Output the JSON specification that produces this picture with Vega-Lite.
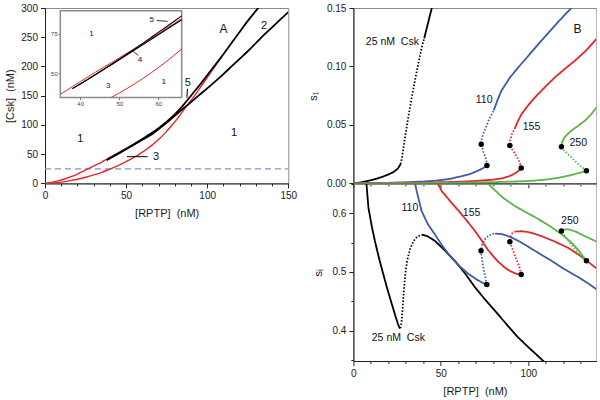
{
  "$schema": "https://vega.github.io/schema/vega-lite/v6.json",
  "background": "white",
  "padding": {"left": 4, "top": 2, "right": 0, "bottom": 0},
  "bounds": "flush",
  "spacing": 64.4,
  "config": {
    "font": "Liberation Sans",
    "view": {"stroke": "#8a8a8a", "strokeWidth": 1},
    "axis": {"grid": false, "labelFontSize": 10, "titleFontSize": 11, "titleFontWeight": "normal", "labelColor": "#1a1a1a", "titleColor": "#1a1a1a", "domainColor": "#222", "tickColor": "#222", "labelFlush": false, "labelOverlap": false, "labelPadding": 3},
    "text": {"fontSize": 10.5, "color": "#111", "fill": "#111"}
  },
  "datasets": {
    "A": [
      {"c":"k5","x":38,"y":40},{"c":"k5","x":40,"y":43},{"c":"k5","x":42,"y":46.1},{"c":"k5","x":44,"y":49.2},{"c":"k5","x":46,"y":52.4},{"c":"k5","x":48,"y":55.6},{"c":"k5","x":50,"y":58.9},{"c":"k5","x":52,"y":62.2},{"c":"k5","x":54,"y":65.6},{"c":"k5","x":56,"y":69},{"c":"k5","x":58,"y":72.5},{"c":"k5","x":60,"y":76},{"c":"k5","x":62,"y":79.5},{"c":"k5","x":64,"y":83},{"c":"k5","x":66,"y":86.6},{"c":"k5","x":70,"y":94.5},{"c":"k5","x":75,"y":105.5},{"c":"k5","x":80,"y":118},{"c":"k5","x":85,"y":133},{"c":"k5","x":88,"y":143},{"c":"k5","x":90,"y":150},{"c":"k5","x":95,"y":167},{"c":"k5","x":100,"y":185},{"c":"k5","x":105,"y":203},{"c":"k5","x":110,"y":221},{"c":"k5","x":115,"y":240},{"c":"k5","x":120,"y":259},{"c":"k5","x":125,"y":278},{"c":"k5","x":130,"y":295},{"c":"k5","x":132,"y":302},
      {"c":"k2","x":38,"y":40},{"c":"k2","x":40,"y":43},{"c":"k2","x":42,"y":46},{"c":"k2","x":44,"y":49.1},{"c":"k2","x":46,"y":52.2},{"c":"k2","x":48,"y":55.3},{"c":"k2","x":50,"y":58.5},{"c":"k2","x":52,"y":61.7},{"c":"k2","x":54,"y":64.9},{"c":"k2","x":56,"y":68.1},{"c":"k2","x":58,"y":71.3},{"c":"k2","x":60,"y":74.5},{"c":"k2","x":62,"y":77.7},{"c":"k2","x":64,"y":80.9},{"c":"k2","x":66,"y":84.1},{"c":"k2","x":70,"y":93},{"c":"k2","x":75,"y":104},{"c":"k2","x":80,"y":116},{"c":"k2","x":85,"y":127.5},{"c":"k2","x":90,"y":139},{"c":"k2","x":95,"y":151},{"c":"k2","x":100,"y":162.5},{"c":"k2","x":105,"y":174.5},{"c":"k2","x":110,"y":187},{"c":"k2","x":115,"y":200},{"c":"k2","x":120,"y":213},{"c":"k2","x":125,"y":226},{"c":"k2","x":130,"y":240},{"c":"k2","x":135,"y":254},{"c":"k2","x":140,"y":267},{"c":"k2","x":145,"y":280},{"c":"k2","x":150,"y":293},
      {"c":"r1","x":0,"y":0},{"c":"r1","x":4,"y":1.8},{"c":"r1","x":8,"y":4.3},{"c":"r1","x":12,"y":7.5},{"c":"r1","x":16,"y":11.5},{"c":"r1","x":20,"y":16},{"c":"r1","x":24,"y":21.5},{"c":"r1","x":28,"y":27},{"c":"r1","x":32,"y":32.5},{"c":"r1","x":35,"y":36.5},{"c":"r1","x":38,"y":41.3},{"c":"r1","x":40,"y":44.5},{"c":"r1","x":42,"y":47.6},{"c":"r1","x":44,"y":50.7},{"c":"r1","x":46,"y":53.7},{"c":"r1","x":48,"y":56.7},{"c":"r1","x":50,"y":59.7},{"c":"r1","x":52,"y":62.7},{"c":"r1","x":54,"y":65.7},{"c":"r1","x":56,"y":68.8},{"c":"r1","x":58,"y":72},{"c":"r1","x":60,"y":75.2},{"c":"r1","x":62,"y":78.4},{"c":"r1","x":64,"y":81.6},{"c":"r1","x":66,"y":84.8},{"c":"r1","x":70,"y":92.5},{"c":"r1","x":75,"y":103.5},{"c":"r1","x":80,"y":115.5},{"c":"r1","x":86,"y":130},
      {"c":"r2","x":0,"y":0},{"c":"r2","x":5,"y":0.8},{"c":"r2","x":10,"y":2.2},{"c":"r2","x":15,"y":4.3},{"c":"r2","x":20,"y":7},{"c":"r2","x":25,"y":10.5},{"c":"r2","x":30,"y":14.5},{"c":"r2","x":35,"y":19},{"c":"r2","x":40,"y":24.5},{"c":"r2","x":44,"y":29},{"c":"r2","x":48,"y":34.4},{"c":"r2","x":50,"y":37.2},{"c":"r2","x":52,"y":40.1},{"c":"r2","x":54,"y":43.2},{"c":"r2","x":56,"y":46.4},{"c":"r2","x":58,"y":49.8},{"c":"r2","x":60,"y":53.4},{"c":"r2","x":62,"y":57.2},{"c":"r2","x":64,"y":61.2},{"c":"r2","x":66,"y":65.4},{"c":"r2","x":70,"y":75},{"c":"r2","x":74,"y":86},{"c":"r2","x":78,"y":98.5},{"c":"r2","x":82,"y":112},{"c":"r2","x":86,"y":127.5},{"c":"r2","x":90,"y":142},{"c":"r2","x":94,"y":157},{"c":"r2","x":98,"y":173},{"c":"r2","x":102,"y":189},{"c":"r2","x":106,"y":205},{"c":"r2","x":109,"y":217}
    ],
    "TA": [
      {"t":"A","x":110,"y":264},{"t":"2","x":135,"y":270},{"t":"5","x":88,"y":172},{"t":"1","x":21.8,"y":76},{"t":"1","x":116.6,"y":85.5},{"t":"3","x":68.4,"y":44.5}
    ],
    "LA": [
      {"x":87.8,"y":162,"x2":87.5,"y2":146.6},{"x":50.5,"y":45.7,"x2":63.3,"y2":45.7}
    ],
    "TI": [
      {"t":"1","x":42.9,"y":75},{"t":"3","x":47.2,"y":41.9},{"t":"1","x":61.4,"y":44.5},{"t":"4","x":55.3,"y":58.5},{"t":"5","x":58.3,"y":84}
    ],
    "LI": [
      {"x":53.6,"y":63.8,"x2":54.9,"y2":61.3},{"x":59.6,"y":83.6,"x2":62.4,"y2":83.1}
    ],
    "Btop": [
      {"c":"25","seg":"25a","d":"solid","x":0,"y":0},{"c":"25","seg":"25a","d":"solid","x":4,"y":0.0008},{"c":"25","seg":"25a","d":"solid","x":8,"y":0.002},{"c":"25","seg":"25a","d":"solid","x":12,"y":0.0035},{"c":"25","seg":"25a","d":"solid","x":16,"y":0.0053},{"c":"25","seg":"25a","d":"solid","x":20,"y":0.0076},{"c":"25","seg":"25a","d":"solid","x":23,"y":0.0098},{"c":"25","seg":"25a","d":"solid","x":25.5,"y":0.0128},{"c":"25","seg":"25a","d":"solid","x":27,"y":0.0165},
      {"c":"25","seg":"25b","d":"dotted","x":27,"y":0.0165},{"c":"25","seg":"25b","d":"dotted","x":27.8,"y":0.022},{"c":"25","seg":"25b","d":"dotted","x":28.6,"y":0.03},{"c":"25","seg":"25b","d":"dotted","x":29.6,"y":0.04},{"c":"25","seg":"25b","d":"dotted","x":31.2,"y":0.055},{"c":"25","seg":"25b","d":"dotted","x":33.2,"y":0.072},{"c":"25","seg":"25b","d":"dotted","x":35.2,"y":0.088},{"c":"25","seg":"25b","d":"dotted","x":37.2,"y":0.103},{"c":"25","seg":"25b","d":"dotted","x":39.2,"y":0.117},{"c":"25","seg":"25b","d":"dotted","x":40.5,"y":0.124},
      {"c":"25","seg":"25c","d":"solid","x":40.5,"y":0.124},{"c":"25","seg":"25c","d":"solid","x":42,"y":0.133},{"c":"25","seg":"25c","d":"solid","x":43.5,"y":0.142},{"c":"25","seg":"25c","d":"solid","x":45,"y":0.151},{"c":"25","seg":"25c","d":"solid","x":46,"y":0.157},
      {"c":"110","seg":"110a","d":"solid","x":0,"y":0},{"c":"110","seg":"110a","d":"solid","x":10,"y":0.0002},{"c":"110","seg":"110a","d":"solid","x":20,"y":0.0005},{"c":"110","seg":"110a","d":"solid","x":30,"y":0.001},{"c":"110","seg":"110a","d":"solid","x":40,"y":0.0016},{"c":"110","seg":"110a","d":"solid","x":47,"y":0.0023},{"c":"110","seg":"110a","d":"solid","x":55,"y":0.0038},{"c":"110","seg":"110a","d":"solid","x":62,"y":0.0062},{"c":"110","seg":"110a","d":"solid","x":67,"y":0.0082},{"c":"110","seg":"110a","d":"solid","x":71.5,"y":0.011},{"c":"110","seg":"110a","d":"solid","x":74.5,"y":0.0133},{"c":"110","seg":"110a","d":"solid","x":76.4,"y":0.0154},
      {"c":"110","seg":"110b","d":"dotted","x":76.4,"y":0.0154},{"c":"110","seg":"110b","d":"dotted","x":76.1,"y":0.019},{"c":"110","seg":"110b","d":"dotted","x":75.4,"y":0.023},{"c":"110","seg":"110b","d":"dotted","x":74.4,"y":0.027},{"c":"110","seg":"110b","d":"dotted","x":73.5,"y":0.031},{"c":"110","seg":"110b","d":"dotted","x":73.1,"y":0.0335},{"c":"110","seg":"110b","d":"dotted","x":73.4,"y":0.038},{"c":"110","seg":"110b","d":"dotted","x":74.4,"y":0.043},{"c":"110","seg":"110b","d":"dotted","x":75.8,"y":0.048},{"c":"110","seg":"110b","d":"dotted","x":77.7,"y":0.055},{"c":"110","seg":"110b","d":"dotted","x":80.3,"y":0.0625},
      {"c":"110","seg":"110c","d":"solid","x":80.3,"y":0.0625},{"c":"110","seg":"110c","d":"solid","x":82.5,"y":0.0715},{"c":"110","seg":"110c","d":"solid","x":84.7,"y":0.0793},{"c":"110","seg":"110c","d":"solid","x":89.5,"y":0.0905},{"c":"110","seg":"110c","d":"solid","x":94.3,"y":0.0992},{"c":"110","seg":"110c","d":"solid","x":100,"y":0.109},{"c":"110","seg":"110c","d":"solid","x":106,"y":0.1195},{"c":"110","seg":"110c","d":"solid","x":112,"y":0.1295},{"c":"110","seg":"110c","d":"solid","x":118,"y":0.1395},{"c":"110","seg":"110c","d":"solid","x":124,"y":0.149},{"c":"110","seg":"110c","d":"solid","x":126,"y":0.152},
      {"c":"155","seg":"155a","d":"solid","x":0,"y":0},{"c":"155","seg":"155a","d":"solid","x":20,"y":0.0002},{"c":"155","seg":"155a","d":"solid","x":40,"y":0.0006},{"c":"155","seg":"155a","d":"solid","x":60,"y":0.0014},{"c":"155","seg":"155a","d":"solid","x":70,"y":0.0021},{"c":"155","seg":"155a","d":"solid","x":80,"y":0.0032},{"c":"155","seg":"155a","d":"solid","x":85,"y":0.0043},{"c":"155","seg":"155a","d":"solid","x":89,"y":0.006},{"c":"155","seg":"155a","d":"solid","x":92,"y":0.0082},{"c":"155","seg":"155a","d":"solid","x":94.5,"y":0.0107},{"c":"155","seg":"155a","d":"solid","x":96,"y":0.0132},
      {"c":"155","seg":"155b","d":"dotted","x":96,"y":0.0132},{"c":"155","seg":"155b","d":"dotted","x":95.3,"y":0.0175},{"c":"155","seg":"155b","d":"dotted","x":94,"y":0.0215},{"c":"155","seg":"155b","d":"dotted","x":92.2,"y":0.026},{"c":"155","seg":"155b","d":"dotted","x":90.4,"y":0.0298},{"c":"155","seg":"155b","d":"dotted","x":89.5,"y":0.0325},{"c":"155","seg":"155b","d":"dotted","x":89.7,"y":0.037},{"c":"155","seg":"155b","d":"dotted","x":90.6,"y":0.042},{"c":"155","seg":"155b","d":"dotted","x":92.2,"y":0.0465},
      {"c":"155","seg":"155c","d":"solid","x":92.2,"y":0.0465},{"c":"155","seg":"155c","d":"solid","x":94,"y":0.053},{"c":"155","seg":"155c","d":"solid","x":96.2,"y":0.0593},{"c":"155","seg":"155c","d":"solid","x":100,"y":0.0668},{"c":"155","seg":"155c","d":"solid","x":103.8,"y":0.0735},{"c":"155","seg":"155c","d":"solid","x":110,"y":0.083},{"c":"155","seg":"155c","d":"solid","x":115.2,"y":0.0906},{"c":"155","seg":"155c","d":"solid","x":121,"y":0.098},{"c":"155","seg":"155c","d":"solid","x":126.7,"y":0.1049},{"c":"155","seg":"155c","d":"solid","x":133,"y":0.1135},{"c":"155","seg":"155c","d":"solid","x":139,"y":0.1235},
      {"c":"250","seg":"250a","d":"solid","x":0,"y":0},{"c":"250","seg":"250a","d":"solid","x":30,"y":0.0002},{"c":"250","seg":"250a","d":"solid","x":60,"y":0.0006},{"c":"250","seg":"250a","d":"solid","x":80,"y":0.0011},{"c":"250","seg":"250a","d":"solid","x":95,"y":0.0017},{"c":"250","seg":"250a","d":"solid","x":104,"y":0.0024},{"c":"250","seg":"250a","d":"solid","x":112,"y":0.0036},{"c":"250","seg":"250a","d":"solid","x":118,"y":0.005},{"c":"250","seg":"250a","d":"solid","x":123,"y":0.0066},{"c":"250","seg":"250a","d":"solid","x":128,"y":0.0085},{"c":"250","seg":"250a","d":"solid","x":131,"y":0.0097},{"c":"250","seg":"250a","d":"solid","x":133.3,"y":0.0109},
      {"c":"250","seg":"250b","d":"dotted","x":133.3,"y":0.0109},{"c":"250","seg":"250b","d":"dotted","x":131,"y":0.0135},{"c":"250","seg":"250b","d":"dotted","x":128.6,"y":0.0166},{"c":"250","seg":"250b","d":"dotted","x":125.6,"y":0.0208},{"c":"250","seg":"250b","d":"dotted","x":122.8,"y":0.025},{"c":"250","seg":"250b","d":"dotted","x":120.4,"y":0.0283},{"c":"250","seg":"250b","d":"dotted","x":119,"y":0.0314},
      {"c":"250","seg":"250c","d":"solid","x":119,"y":0.0314},{"c":"250","seg":"250c","d":"solid","x":119.3,"y":0.035},{"c":"250","seg":"250c","d":"solid","x":120.8,"y":0.0395},{"c":"250","seg":"250c","d":"solid","x":123,"y":0.0428},{"c":"250","seg":"250c","d":"solid","x":125,"y":0.0455},{"c":"250","seg":"250c","d":"solid","x":128.5,"y":0.0492},{"c":"250","seg":"250c","d":"solid","x":132.4,"y":0.0536},{"c":"250","seg":"250c","d":"solid","x":136,"y":0.059},{"c":"250","seg":"250c","d":"solid","x":139,"y":0.065}
    ],
    "Bbot": [
      {"c":"25","seg":"25a","d":"solid","x":7.2,"y":0.66},{"c":"25","seg":"25a","d":"solid","x":8.6,"y":0.6096},{"c":"25","seg":"25a","d":"solid","x":10.5,"y":0.578},{"c":"25","seg":"25a","d":"solid","x":12.3,"y":0.5528},{"c":"25","seg":"25a","d":"solid","x":14.6,"y":0.524},{"c":"25","seg":"25a","d":"solid","x":17.1,"y":0.496},{"c":"25","seg":"25a","d":"solid","x":19.5,"y":0.47},{"c":"25","seg":"25a","d":"solid","x":21.9,"y":0.446},{"c":"25","seg":"25a","d":"solid","x":24,"y":0.425},{"c":"25","seg":"25a","d":"solid","x":25.5,"y":0.411},{"c":"25","seg":"25a","d":"solid","x":26.4,"y":0.4045},{"c":"25","seg":"25a","d":"solid","x":26.9,"y":0.404},
      {"c":"25","seg":"25b","d":"dotted","x":26.9,"y":0.404},{"c":"25","seg":"25b","d":"dotted","x":27.5,"y":0.413},{"c":"25","seg":"25b","d":"dotted","x":28.2,"y":0.44},{"c":"25","seg":"25b","d":"dotted","x":28.9,"y":0.47},{"c":"25","seg":"25b","d":"dotted","x":29.7,"y":0.497},{"c":"25","seg":"25b","d":"dotted","x":30.8,"y":0.52},{"c":"25","seg":"25b","d":"dotted","x":32.4,"y":0.539},{"c":"25","seg":"25b","d":"dotted","x":34.3,"y":0.552},{"c":"25","seg":"25b","d":"dotted","x":36.4,"y":0.56},{"c":"25","seg":"25b","d":"dotted","x":39,"y":0.5635},
      {"c":"25","seg":"25c","d":"solid","x":39,"y":0.5635},{"c":"25","seg":"25c","d":"solid","x":42,"y":0.5615},{"c":"25","seg":"25c","d":"solid","x":46.6,"y":0.553},{"c":"25","seg":"25c","d":"solid","x":52,"y":0.5375},{"c":"25","seg":"25c","d":"solid","x":58,"y":0.519},{"c":"25","seg":"25c","d":"solid","x":64,"y":0.497},{"c":"25","seg":"25c","d":"solid","x":69.5,"y":0.474},{"c":"25","seg":"25c","d":"solid","x":75,"y":0.454},{"c":"25","seg":"25c","d":"solid","x":81,"y":0.4336},{"c":"25","seg":"25c","d":"solid","x":87.5,"y":0.411},{"c":"25","seg":"25c","d":"solid","x":94.3,"y":0.388},{"c":"25","seg":"25c","d":"solid","x":101,"y":0.369},{"c":"25","seg":"25c","d":"solid","x":107.6,"y":0.351},{"c":"25","seg":"25c","d":"solid","x":110,"y":0.344},
      {"c":"110","seg":"110a","d":"solid","x":35,"y":0.655},{"c":"110","seg":"110a","d":"solid","x":36.2,"y":0.638},{"c":"110","seg":"110a","d":"solid","x":39,"y":0.604},{"c":"110","seg":"110a","d":"solid","x":42.5,"y":0.582},{"c":"110","seg":"110a","d":"solid","x":46.6,"y":0.564},{"c":"110","seg":"110a","d":"solid","x":51,"y":0.544},{"c":"110","seg":"110a","d":"solid","x":56.1,"y":0.524},{"c":"110","seg":"110a","d":"solid","x":61,"y":0.509},{"c":"110","seg":"110a","d":"solid","x":65.7,"y":0.497},{"c":"110","seg":"110a","d":"solid","x":70.5,"y":0.487},{"c":"110","seg":"110a","d":"solid","x":74.5,"y":0.4805},{"c":"110","seg":"110a","d":"solid","x":76.3,"y":0.4785},
      {"c":"110","seg":"110b","d":"dotted","x":76.3,"y":0.4785},{"c":"110","seg":"110b","d":"dotted","x":75.7,"y":0.488},{"c":"110","seg":"110b","d":"dotted","x":74.7,"y":0.502},{"c":"110","seg":"110b","d":"dotted","x":73.7,"y":0.518},{"c":"110","seg":"110b","d":"dotted","x":73,"y":0.536},{"c":"110","seg":"110b","d":"dotted","x":73.6,"y":0.546},{"c":"110","seg":"110b","d":"dotted","x":75,"y":0.555},{"c":"110","seg":"110b","d":"dotted","x":77,"y":0.561},{"c":"110","seg":"110b","d":"dotted","x":79,"y":0.5645},{"c":"110","seg":"110b","d":"dotted","x":81,"y":0.5655},
      {"c":"110","seg":"110c","d":"solid","x":81,"y":0.5655},{"c":"110","seg":"110c","d":"solid","x":85,"y":0.5645},{"c":"110","seg":"110c","d":"solid","x":90,"y":0.5595},{"c":"110","seg":"110c","d":"solid","x":94.3,"y":0.553},{"c":"110","seg":"110c","d":"solid","x":100,"y":0.543},{"c":"110","seg":"110c","d":"solid","x":106,"y":0.532},{"c":"110","seg":"110c","d":"solid","x":113.3,"y":0.519},{"c":"110","seg":"110c","d":"solid","x":120,"y":0.506},{"c":"110","seg":"110c","d":"solid","x":127,"y":0.494},{"c":"110","seg":"110c","d":"solid","x":133,"y":0.483},{"c":"110","seg":"110c","d":"solid","x":139,"y":0.4705},
      {"c":"155","seg":"155a","d":"solid","x":47.5,"y":0.655},{"c":"155","seg":"155a","d":"solid","x":50.5,"y":0.638},{"c":"155","seg":"155a","d":"solid","x":55,"y":0.622},{"c":"155","seg":"155a","d":"solid","x":60,"y":0.605},{"c":"155","seg":"155a","d":"solid","x":65,"y":0.587},{"c":"155","seg":"155a","d":"solid","x":69.5,"y":0.57},{"c":"155","seg":"155a","d":"solid","x":73.5,"y":0.553},{"c":"155","seg":"155a","d":"solid","x":77.1,"y":0.537},{"c":"155","seg":"155a","d":"solid","x":82,"y":0.52},{"c":"155","seg":"155a","d":"solid","x":86.7,"y":0.507},{"c":"155","seg":"155a","d":"solid","x":90,"y":0.501},{"c":"155","seg":"155a","d":"solid","x":93,"y":0.497},{"c":"155","seg":"155a","d":"solid","x":96,"y":0.4954},
      {"c":"155","seg":"155b","d":"dotted","x":96,"y":0.4954},{"c":"155","seg":"155b","d":"dotted","x":95.2,"y":0.506},{"c":"155","seg":"155b","d":"dotted","x":94,"y":0.516},{"c":"155","seg":"155b","d":"dotted","x":92.6,"y":0.526},{"c":"155","seg":"155b","d":"dotted","x":91,"y":0.539},{"c":"155","seg":"155b","d":"dotted","x":89.5,"y":0.5516},{"c":"155","seg":"155b","d":"dotted","x":89.9,"y":0.56},{"c":"155","seg":"155b","d":"dotted","x":91,"y":0.5665},{"c":"155","seg":"155b","d":"dotted","x":92.7,"y":0.569},
      {"c":"155","seg":"155c","d":"solid","x":92.7,"y":0.569},{"c":"155","seg":"155c","d":"solid","x":96.2,"y":0.5695},{"c":"155","seg":"155c","d":"solid","x":100,"y":0.568},{"c":"155","seg":"155c","d":"solid","x":104,"y":0.5648},{"c":"155","seg":"155c","d":"solid","x":107.6,"y":0.561},{"c":"155","seg":"155c","d":"solid","x":115,"y":0.552},{"c":"155","seg":"155c","d":"solid","x":122.9,"y":0.541},{"c":"155","seg":"155c","d":"solid","x":130,"y":0.527},{"c":"155","seg":"155c","d":"solid","x":135,"y":0.5155},{"c":"155","seg":"155c","d":"solid","x":139,"y":0.506},
      {"c":"250","seg":"250a","d":"solid","x":75.5,"y":0.655},{"c":"250","seg":"250a","d":"solid","x":80,"y":0.642},{"c":"250","seg":"250a","d":"solid","x":85.4,"y":0.627},{"c":"250","seg":"250a","d":"solid","x":92,"y":0.613},{"c":"250","seg":"250a","d":"solid","x":98,"y":0.603},{"c":"250","seg":"250a","d":"solid","x":104.4,"y":0.5925},{"c":"250","seg":"250a","d":"solid","x":112,"y":0.579},{"c":"250","seg":"250a","d":"solid","x":119.6,"y":0.563},{"c":"250","seg":"250a","d":"solid","x":124,"y":0.552},{"c":"250","seg":"250a","d":"solid","x":128.5,"y":0.538},{"c":"250","seg":"250a","d":"solid","x":131.5,"y":0.526},{"c":"250","seg":"250a","d":"solid","x":133.3,"y":0.519},
      {"c":"250","seg":"250b","d":"dotted","x":133.3,"y":0.519},{"c":"250","seg":"250b","d":"dotted","x":130.5,"y":0.527},{"c":"250","seg":"250b","d":"dotted","x":127.5,"y":0.536},{"c":"250","seg":"250b","d":"dotted","x":124.5,"y":0.547},{"c":"250","seg":"250b","d":"dotted","x":121.7,"y":0.558},{"c":"250","seg":"250b","d":"dotted","x":119,"y":0.57},
      {"c":"250","seg":"250c","d":"solid","x":119,"y":0.57},{"c":"250","seg":"250c","d":"solid","x":121,"y":0.5725},{"c":"250","seg":"250c","d":"solid","x":123,"y":0.5725},{"c":"250","seg":"250c","d":"solid","x":127,"y":0.569},{"c":"250","seg":"250c","d":"solid","x":132.4,"y":0.561},{"c":"250","seg":"250c","d":"solid","x":136,"y":0.556},{"c":"250","seg":"250c","d":"solid","x":139,"y":0.552}
    ],
    "Dtop": [
      {"x":73.1,"y":0.0335},{"x":76.4,"y":0.0154},{"x":89.5,"y":0.0325},{"x":96,"y":0.0132},{"x":119,"y":0.0314},{"x":133.3,"y":0.0109}
    ],
    "Dbot": [
      {"x":73,"y":0.536},{"x":76.3,"y":0.4785},{"x":89.5,"y":0.5516},{"x":96,"y":0.4954},{"x":119,"y":0.57},{"x":133.3,"y":0.519}
    ],
    "Ttop": [
      {"t":"B","x":128.2,"y":0.132},{"t":"25 nM\u00a0 Csk","x":22.3,"y":0.121},{"t":"110","x":74.8,"y":0.0713},{"t":"155","x":101.9,"y":0.0485},{"t":"250","x":128.6,"y":0.0342}
    ],
    "Tbot": [
      {"t":"110","x":32.3,"y":0.6095},{"t":"155","x":67.6,"y":0.601},{"t":"250","x":123.8,"y":0.587},{"t":"25 nM\u00a0 Csk","x":25.7,"y":0.388}
    ]
  },
  "hconcat": [
    {
      "width": 243.3,
      "height": 175.4,
      "layer": [
        {
          "encoding": {
            "x": {"field": "x", "type": "quantitative", "scale": {"domain": [0, 150], "nice": false, "zero": false},
              "axis": {"values": [0,10,20,30,40,50,60,70,80,90,100,110,120,130,140,150], "labelExpr": "datum.value % 50 == 0 ? datum.label : ''", "tickSize": {"condition": {"test": "datum.value % 50 != 0", "value": 2.5}, "value": 4.5}, "title": "[RPTP]\u00a0 (nM)", "titlePadding": 7}},
            "y": {"field": "y", "type": "quantitative", "scale": {"domain": [0, 300], "nice": false, "zero": false},
              "axis": {"values": [0,50,100,150,200,250,300], "tickSize": 4.5, "title": "[Csk]\u00a0 (nM)", "titlePadding": 5}}
          },
          "layer": [
            {"data": {"values": [{"x": 0, "x2": 150, "y": 25}]}, "mark": {"type": "rule", "color": "#7e96c6", "strokeDash": [6, 4], "strokeWidth": 1.2}, "encoding": {"x2": {"field": "x2"}}},
            {"data": {"name": "A"}, "transform": [{"filter": "datum.c == 'r1' || datum.c == 'r2'"}], "mark": {"type": "line", "color": "#e3262c", "strokeWidth": 1.4, "clip": true, "interpolate": "monotone"}, "encoding": {"detail": {"field": "c"}, "order": {"value": null}}},
            {"data": {"name": "A"}, "transform": [{"filter": "datum.c == 'k5' || datum.c == 'k2'"}], "mark": {"type": "line", "color": "#000", "strokeWidth": 1.8, "clip": true, "interpolate": "monotone"}, "encoding": {"detail": {"field": "c"}, "order": {"value": null}}},
            {"data": {"name": "TA"}, "mark": {"type": "text", "color": "#111"}, "encoding": {"text": {"field": "t"}, "size": {"condition": {"test": "datum.t == 'A'", "value": 12}, "value": 11}}},
            {"data": {"name": "LA"}, "mark": {"type": "rule", "color": "#000", "strokeWidth": 1}, "encoding": {"x2": {"field": "x2"}, "y2": {"field": "y2"}}}
          ]
        },
        {
          "encoding": {
            "x": {"field": "x", "type": "quantitative", "scale": {"domain": [34.9, 66], "range": [15.3, 136.7], "nice": false, "zero": false},
              "axis": {"orient": "bottom", "offset": -86, "values": [40, 50, 60], "domain": false, "tickSize": 2, "labelPadding": 1, "labelFontSize": 6, "labelColor": "#444", "tickColor": "#666", "title": null}},
            "y": {"field": "y", "type": "quantitative", "scale": {"domain": [34.4, 89.9], "range": [89.4, 2.7], "nice": false, "zero": false},
              "axis": {"orient": "left", "offset": -15.3, "values": [50, 75], "domain": false, "tickSize": 2, "labelPadding": 1, "labelFontSize": 6, "labelColor": "#444", "tickColor": "#666", "title": null}}
          },
          "layer": [
            {"data": {"values": [{"x": 34.9, "x2": 66, "y": 34.4, "y2": 89.9}]}, "mark": {"type": "rect", "fill": "#ffffff", "stroke": "#8a8a8a", "strokeWidth": 1.5}, "encoding": {"x2": {"field": "x2"}, "y2": {"field": "y2"}}},
            {"data": {"name": "A"}, "transform": [{"filter": "(datum.c == 'r1' || datum.c == 'r2') && datum.x >= 34.8 && datum.x <= 66.1 && datum.y >= 34.3 && datum.y <= 90"}], "mark": {"type": "line", "color": "#e3262c", "strokeWidth": 1, "interpolate": "monotone"}, "encoding": {"detail": {"field": "c"}, "order": {"value": null}}},
            {"data": {"name": "A"}, "transform": [{"filter": "(datum.c == 'k5' || datum.c == 'k2') && datum.x >= 34.8 && datum.x <= 66.1 && datum.y >= 34.3 && datum.y <= 90"}], "mark": {"type": "line", "color": "#000", "strokeWidth": 1.1, "interpolate": "monotone"}, "encoding": {"detail": {"field": "c"}, "order": {"value": null}}},
            {"data": {"name": "TI"}, "mark": {"type": "text", "fontSize": 8, "color": "#111"}, "encoding": {"text": {"field": "t"}}},
            {"data": {"name": "LI"}, "mark": {"type": "rule", "color": "#000", "strokeWidth": 0.8}, "encoding": {"x2": {"field": "x2"}, "y2": {"field": "y2"}}}
          ]
        }
      ],
      "resolve": {"scale": {"x": "independent", "y": "independent"}, "axis": {"x": "independent", "y": "independent"}}
    },
    {
      "bounds": "flush",
      "spacing": 0,
      "vconcat": [
        {
          "width": 243,
          "height": 175.4,
          "encoding": {
            "x": {"field": "x", "type": "quantitative", "scale": {"domain": [0, 139], "nice": false, "zero": false},
              "axis": {"values": [0,10,20,30,40,50,60,70,80,90,100,110,120,130], "labels": false, "title": null, "tickSize": {"condition": {"test": "datum.value % 50 != 0", "value": 2.5}, "value": 4.5}}},
            "y": {"field": "y", "type": "quantitative", "scale": {"domain": [0, 0.15], "nice": false, "zero": false},
              "axis": {"values": [0, 0.05, 0.1, 0.15], "format": ".2f", "tickSize": 4.5, "title": "s\u2081", "titlePadding": 8}}
          },
          "layer": [
            {"data": {"name": "Btop"}, "mark": {"type": "line", "clip": true, "strokeWidth": 1.8},
              "encoding": {
                "color": {"field": "c", "type": "nominal", "scale": {"domain": ["25", "110", "155", "250"], "range": ["#000000", "#3d5ca6", "#e3262c", "#5bb446"]}, "legend": null},
                "strokeDash": {"field": "d", "type": "nominal", "scale": {"domain": ["solid", "dotted"], "range": [[1, 0], [1.5, 1.8]]}, "legend": null},
                "detail": {"field": "seg"},
                "order": {"value": null}}},
            {"data": {"name": "Dtop"}, "mark": {"type": "circle", "color": "#000", "size": 30, "opacity": 1}},
            {"data": {"name": "Ttop"}, "mark": {"type": "text", "color": "#111"}, "encoding": {"text": {"field": "t"}, "size": {"condition": {"test": "datum.t == 'B'", "value": 12}, "value": 10.5}}}
          ]
        },
        {
          "width": 243,
          "height": 177,
          "encoding": {
            "x": {"field": "x", "type": "quantitative", "scale": {"domain": [0, 139], "nice": false, "zero": false},
              "axis": {"values": [0,10,20,30,40,50,60,70,80,90,100,110,120,130], "labelExpr": "datum.value % 50 == 0 ? datum.label : ''", "tickSize": {"condition": {"test": "datum.value % 50 != 0", "value": 2.5}, "value": 4.5}, "title": "[RPTP]\u00a0 (nM)", "titlePadding": 7}},
            "y": {"field": "y", "type": "quantitative", "scale": {"domain": [0.348, 0.65], "nice": false, "zero": false},
              "axis": {"values": [0.35, 0.4, 0.45, 0.5, 0.55, 0.6, 0.65], "labelExpr": "round(datum.value * 100) % 10 == 0 ? format(datum.value, '.1f') : ''", "tickSize": {"condition": {"test": "round(datum.value * 100) % 10 != 0", "value": 2.5}, "value": 4.5}, "title": "s\u1d62", "titlePadding": 8}}
          },
          "layer": [
            {"data": {"name": "Bbot"}, "mark": {"type": "line", "clip": true, "strokeWidth": 1.8},
              "encoding": {
                "color": {"field": "c", "type": "nominal", "scale": {"domain": ["25", "110", "155", "250"], "range": ["#000000", "#3d5ca6", "#e3262c", "#5bb446"]}, "legend": null},
                "strokeDash": {"field": "d", "type": "nominal", "scale": {"domain": ["solid", "dotted"], "range": [[1, 0], [1.5, 1.8]]}, "legend": null},
                "detail": {"field": "seg"},
                "order": {"value": null}}},
            {"data": {"name": "Dbot"}, "mark": {"type": "circle", "color": "#000", "size": 30, "opacity": 1}},
            {"data": {"name": "Tbot"}, "mark": {"type": "text", "fontSize": 10.5, "color": "#111"}, "encoding": {"text": {"field": "t"}}}
          ]
        }
      ]
    }
  ]
}
